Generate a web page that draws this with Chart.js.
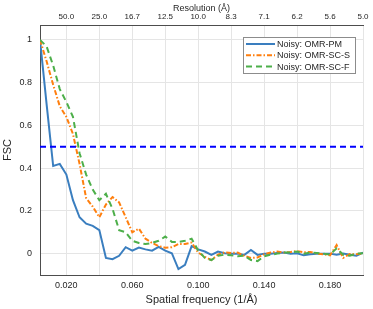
<!DOCTYPE html>
<html>
<head>
<meta charset="utf-8">
<script src="https://cdn.jsdelivr.net/npm/chart.js@4.4.1/dist/chart.umd.min.js"></script>
<style>
  html, body { margin: 0; padding: 0; background: #fff; }
  #wrap { width: 373px; height: 309px; }
</style>
</head>
<body>
<div id="wrap"><canvas id="grafico" width="373" height="309"></canvas></div>
<script>
// frequências espaciais (1/Å)
const freq = [0.004, 0.008, 0.012, 0.016, 0.020, 0.024, 0.028, 0.032, 0.036, 0.040,
              0.044, 0.048, 0.052, 0.056, 0.060, 0.064, 0.068, 0.072, 0.076, 0.080,
              0.084, 0.088, 0.092, 0.096, 0.100, 0.104, 0.108, 0.112, 0.116, 0.120,
              0.124, 0.128, 0.132, 0.136, 0.140, 0.144, 0.148, 0.152, 0.156, 0.160,
              0.164, 0.168, 0.172, 0.176, 0.180, 0.184, 0.188, 0.192, 0.196, 0.200];

const fscPM = [1.0, 0.70, 0.41, 0.42, 0.37, 0.25, 0.17, 0.14, 0.13, 0.11,
               -0.02, -0.026, -0.01, 0.03, 0.014, 0.028, 0.02, 0.014, 0.032, 0.014,
               0.002, -0.072, -0.052, 0.035, 0.02, 0.01, -0.006, 0.01, 0.002, 0.0,
               0.0, -0.006, 0.017, -0.006, 0.0, 0.0, 0.003, 0.005, 0.0, 0.002,
               -0.008, -0.003, 0.0, 0.0, 0.0, -0.005, 0.0, -0.005, -0.01, 0.005];

const fscSCS = [1.0, 0.90, 0.79, 0.69, 0.64, 0.56, 0.42, 0.26, 0.22, 0.17,
                0.23, 0.265, 0.24, 0.17, 0.10, 0.117, 0.07, 0.05, 0.035, 0.028,
                0.03, 0.045, 0.045, 0.052, 0.005, -0.015, -0.03, -0.005, 0.006, 0.003,
                0.005, -0.01, -0.02, -0.018, -0.003, 0.005, 0.01, 0.005, 0.008, 0.012,
                0.006, 0.008, 0.0, -0.003, -0.008, 0.04, -0.02, -0.002, -0.003, 0.0];

const fscSCF = [1.0, 0.97, 0.88, 0.77, 0.71, 0.64, 0.47, 0.37, 0.30, 0.25,
                0.28, 0.21, 0.11, 0.10, 0.06, 0.05, 0.045, 0.05, 0.06, 0.08,
                0.055, 0.055, 0.06, 0.07, 0.015, -0.02, -0.03, -0.01, -0.005, -0.008,
                -0.012, -0.01, -0.03, -0.035, -0.012, -0.005, 0.0, 0.005, 0.005, 0.01,
                0.0, 0.005, 0.003, 0.0, -0.005, 0.025, -0.005, -0.01, 0.0, 0.002];

const limiar = 0.5; // critério FSC

const nomesSeries = ['Noisy: OMR-PM', 'Noisy: OMR-SC-S', 'Noisy: OMR-SC-F'];

// ticks
const xTicks = [0.02, 0.04, 0.06, 0.08, 0.10, 0.12, 0.14, 0.16, 0.18, 0.20];
const xLabels = ['0.020', '', '0.060', '', '0.100', '', '0.140', '', '0.180', ''];
const resLabels = ['50.0', '25.0', '16.7', '12.5', '10.0', '8.3', '7.1', '6.2', '5.6', '5.0'];
const yTicks = [0, 0.2, 0.4, 0.6, 0.8, 1];
const yLabels = ['0', '0.2', '0.4', '0.6', '0.8', '1'];

const pontos = (ys) => freq.map((f, i) => ({ x: f, y: ys[i] }));

const FONTE = '"Liberation Sans", Arial, sans-serif';
const corTexto = '#262626';
const corGrade = '#e5e5e5';
const corEixo = '#4d4d4d';

// legenda dentro da área do gráfico, com moldura
const legendaCaixa = {
  id: 'legendaCaixa',
  afterDatasetsDraw(chart) {
    const ctx = chart.ctx;
    const area = chart.chartArea;
    const series = nomesSeries.map(n => chart.data.datasets.find(d => d.label === n));
    const larg = 112, alt = 36;
    const x0 = area.right - 8 - larg;
    const y0 = area.top + 12;
    ctx.save();
    ctx.fillStyle = '#fff';
    ctx.fillRect(x0, y0, larg, alt);
    ctx.strokeStyle = '#8c8c8c';
    ctx.lineWidth = 1;
    ctx.strokeRect(x0 + 0.5, y0 + 0.5, larg, alt);
    ctx.font = '9px ' + FONTE;
    ctx.textBaseline = 'middle';
    series.forEach((d, i) => {
      const y = y0 + 7 + i * 11.3;
      ctx.strokeStyle = d.borderColor;
      ctx.lineWidth = d.borderWidth;
      ctx.setLineDash(d.borderDash || []);
      ctx.beginPath();
      ctx.moveTo(x0 + 3, y);
      ctx.lineTo(x0 + 32, y);
      ctx.stroke();
      ctx.setLineDash([]);
      ctx.fillStyle = corTexto;
      ctx.fillText(d.label, x0 + 34, y + 0.5);
    });
    ctx.restore();
  }
};

const ctx = document.getElementById('grafico').getContext('2d');
new Chart(ctx, {
  type: 'line',
  data: {
    datasets: [
      {
        label: 'limiar',
        data: [{ x: freq[0], y: limiar }, { x: freq[freq.length - 1], y: limiar }],
        borderColor: '#0000ff',
        borderWidth: 2,
        borderDash: [6, 4],
        pointRadius: 0
      },
      {
        label: nomesSeries[2],
        data: pontos(fscSCF),
        borderColor: '#4daf4a',
        borderWidth: 2,
        borderDash: [6, 4],
        pointRadius: 0
      },
      {
        label: nomesSeries[1],
        data: pontos(fscSCS),
        borderColor: '#ff7f0e',
        borderWidth: 2,
        borderDash: [5, 2, 1.5, 2],
        pointRadius: 0
      },
      {
        label: nomesSeries[0],
        data: pontos(fscPM),
        borderColor: '#3a7ebf',
        borderWidth: 2,
        pointRadius: 0
      }
    ]
  },
  options: {
    responsive: false,
    animation: false,
    layout: { padding: { left: 0, right: 10, top: 0, bottom: 0 } },
    plugins: {
      legend: { display: false },
      tooltip: { enabled: false }
    },
    scales: {
      x: {
        type: 'linear',
        position: 'bottom',
        min: 0.004,
        max: 0.2,
        afterBuildTicks: (ax) => { ax.ticks = xTicks.map(v => ({ value: v })); },
        afterFit: (ax) => { ax.height = 34; },
        ticks: {
          autoSkip: false,
          maxRotation: 0,
          padding: 6,
          color: corTexto,
          font: { family: FONTE, size: 9, lineHeight: 1 },
          callback: (v, i) => xLabels[i]
        },
        grid: { color: corGrade, tickLength: 0 },
        border: { color: corEixo },
        title: {
          display: true,
          text: 'Spatial frequency (1/Å)',
          color: corTexto,
          font: { family: FONTE, size: 11, lineHeight: 1 },
          padding: { top: 0, bottom: 4 }
        }
      },
      x2: {
        type: 'linear',
        position: 'top',
        min: 0.004,
        max: 0.2,
        afterBuildTicks: (ax) => { ax.ticks = xTicks.map(v => ({ value: v })); },
        afterFit: (ax) => { ax.height = 25; },
        ticks: {
          autoSkip: false,
          maxRotation: 0,
          padding: 4,
          color: corTexto,
          font: { family: FONTE, size: 8, lineHeight: 1 },
          callback: (v, i) => resLabels[i]
        },
        grid: { drawOnChartArea: false, tickLength: 0 },
        border: { color: corEixo },
        title: {
          display: true,
          text: 'Resolution (Å)',
          color: corTexto,
          font: { family: FONTE, size: 9, lineHeight: 1 },
          padding: { top: 4, bottom: 0 }
        }
      },
      y: {
        min: -0.1,
        max: 1.07,
        afterBuildTicks: (ax) => { ax.ticks = yTicks.map(v => ({ value: v })); },
        afterFit: (ax) => { ax.width = 40; },
        ticks: {
          padding: 8,
          color: corTexto,
          font: { family: FONTE, size: 9 },
          callback: (v, i) => yLabels[i]
        },
        grid: { color: corGrade, tickLength: 0 },
        border: { color: corEixo },
        title: {
          display: true,
          text: 'FSC',
          color: corTexto,
          font: { family: FONTE, size: 11, lineHeight: 1 },
          padding: { top: 2, bottom: 0 }
        }
      }
    }
  },
  plugins: [legendaCaixa]
});
</script>
</body>
</html>
